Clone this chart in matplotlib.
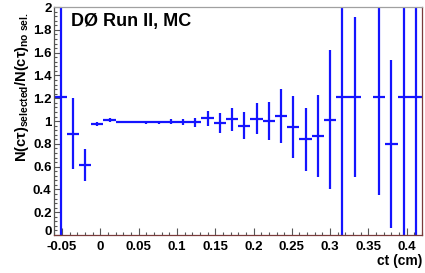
import matplotlib
matplotlib.use("Agg")
import matplotlib.pyplot as plt
from matplotlib.ticker import MultipleLocator
from matplotlib.transforms import ScaledTranslation
import numpy as np

plt.rcParams['font.family'] = ['Liberation Sans', 'DejaVu Sans']
plt.rcParams['font.weight'] = 'bold'
plt.rcParams['mathtext.fontset'] = 'custom'
plt.rcParams['mathtext.rm'] = 'Liberation Sans:bold'
plt.rcParams['mathtext.it'] = 'Liberation Sans:bold'
plt.rcParams['mathtext.bf'] = 'Liberation Sans:bold'
plt.rcParams['mathtext.sf'] = 'Liberation Sans:bold'

# Data
bin_centers = [-0.052, -0.036, -0.020, -0.004, 0.012, 0.028, 0.044, 0.060,
               0.076, 0.092, 0.108, 0.124, 0.140, 0.156, 0.172, 0.188,
               0.204, 0.220, 0.236, 0.252, 0.268, 0.284, 0.300, 0.316,
               0.332, 0.364, 0.380, 0.396, 0.412]
ratio = [1.21, 0.89, 0.615, 0.975, 1.01, 0.995, 0.99, 0.99,
         0.99, 0.995, 0.99, 0.99, 1.025, 0.98, 1.015, 0.96,
         1.02, 1.0, 1.045, 0.95, 0.84, 0.866, 1.01, 1.21,
         1.21, 1.21, 0.80, 1.21, 1.21]
ratio_err = [1.3, 0.31, 0.14, 0.02, 0.015, 0.01, 0.01, 0.012,
             0.015, 0.02, 0.025, 0.04, 0.065, 0.088, 0.10, 0.12,
             0.135, 0.167, 0.234, 0.27, 0.276, 0.36, 0.61, 1.3,
             0.70, 0.86, 0.74, 1.3, 1.3]
half_width = 0.008

fig = plt.figure(figsize=(4.25, 2.73), dpi=100)
ax = fig.add_axes([0.128, 0.139, 0.865, 0.835])

ax.errorbar(bin_centers, ratio, yerr=ratio_err, xerr=half_width,
            fmt='none', ecolor='#1414ff', elinewidth=1.6, capsize=0)

ax.set_xlim(-0.06, 0.42)
ax.set_ylim(0, 2)

ax.xaxis.set_major_locator(MultipleLocator(0.05))
ax.xaxis.set_minor_locator(MultipleLocator(0.01))
ax.yaxis.set_major_locator(MultipleLocator(0.2))
ax.yaxis.set_minor_locator(MultipleLocator(0.04))

ax.tick_params(axis='both', which='both', direction='in', color='#555555',
               width=0.8)
ax.tick_params(axis='both', which='major', length=5, labelsize=9.5)
ax.tick_params(axis='x', which='major', pad=4.5)
ax.tick_params(axis='y', which='major', pad=2)
ax.tick_params(axis='both', which='minor', length=2.5)

def fmt(v, pos):
    s = ('%.2f' % v).rstrip('0').rstrip('.')
    if s in ('-0', '0.0'):
        s = '0'
    return s
ax.xaxis.set_major_formatter(plt.FuncFormatter(fmt))
ax.yaxis.set_major_formatter(plt.FuncFormatter(fmt))

fig.canvas.draw()
for lab in ax.get_xticklabels() + ax.get_yticklabels():
    lab.set_fontweight('bold')
# raise the y "0" label slightly, as in the reference
for t in ax.yaxis.get_major_ticks():
    if abs(t.get_loc()) < 1e-9:
        t.label1.set_transform(t.label1.get_transform() +
                               ScaledTranslation(0, 3 / 72, fig.dpi_scale_trans))

ax.spines['top'].set_color('#a0a0a0')
ax.spines['right'].set_color('#7a3b3b')
ax.spines['bottom'].set_color('#7a3b3b')
ax.spines['left'].set_color('#555555')
for s in ax.spines.values():
    s.set_linewidth(0.9)

ax.text(0.045, 0.975, 'DØ Run II, MC', transform=ax.transAxes,
        fontsize=13, fontweight='bold', va='top', ha='left')

fig.text(0.993, 0.02, 'ct (cm)', ha='right', va='bottom', fontsize=10,
         fontweight='bold')
fig.text(0.03, 0.955, r'$N(c\tau)_{selected}/N(c\tau)_{no\ sel.}$',
         rotation=90, ha='left', va='top', fontsize=10.5)

fig.savefig('out.png', dpi=100)
